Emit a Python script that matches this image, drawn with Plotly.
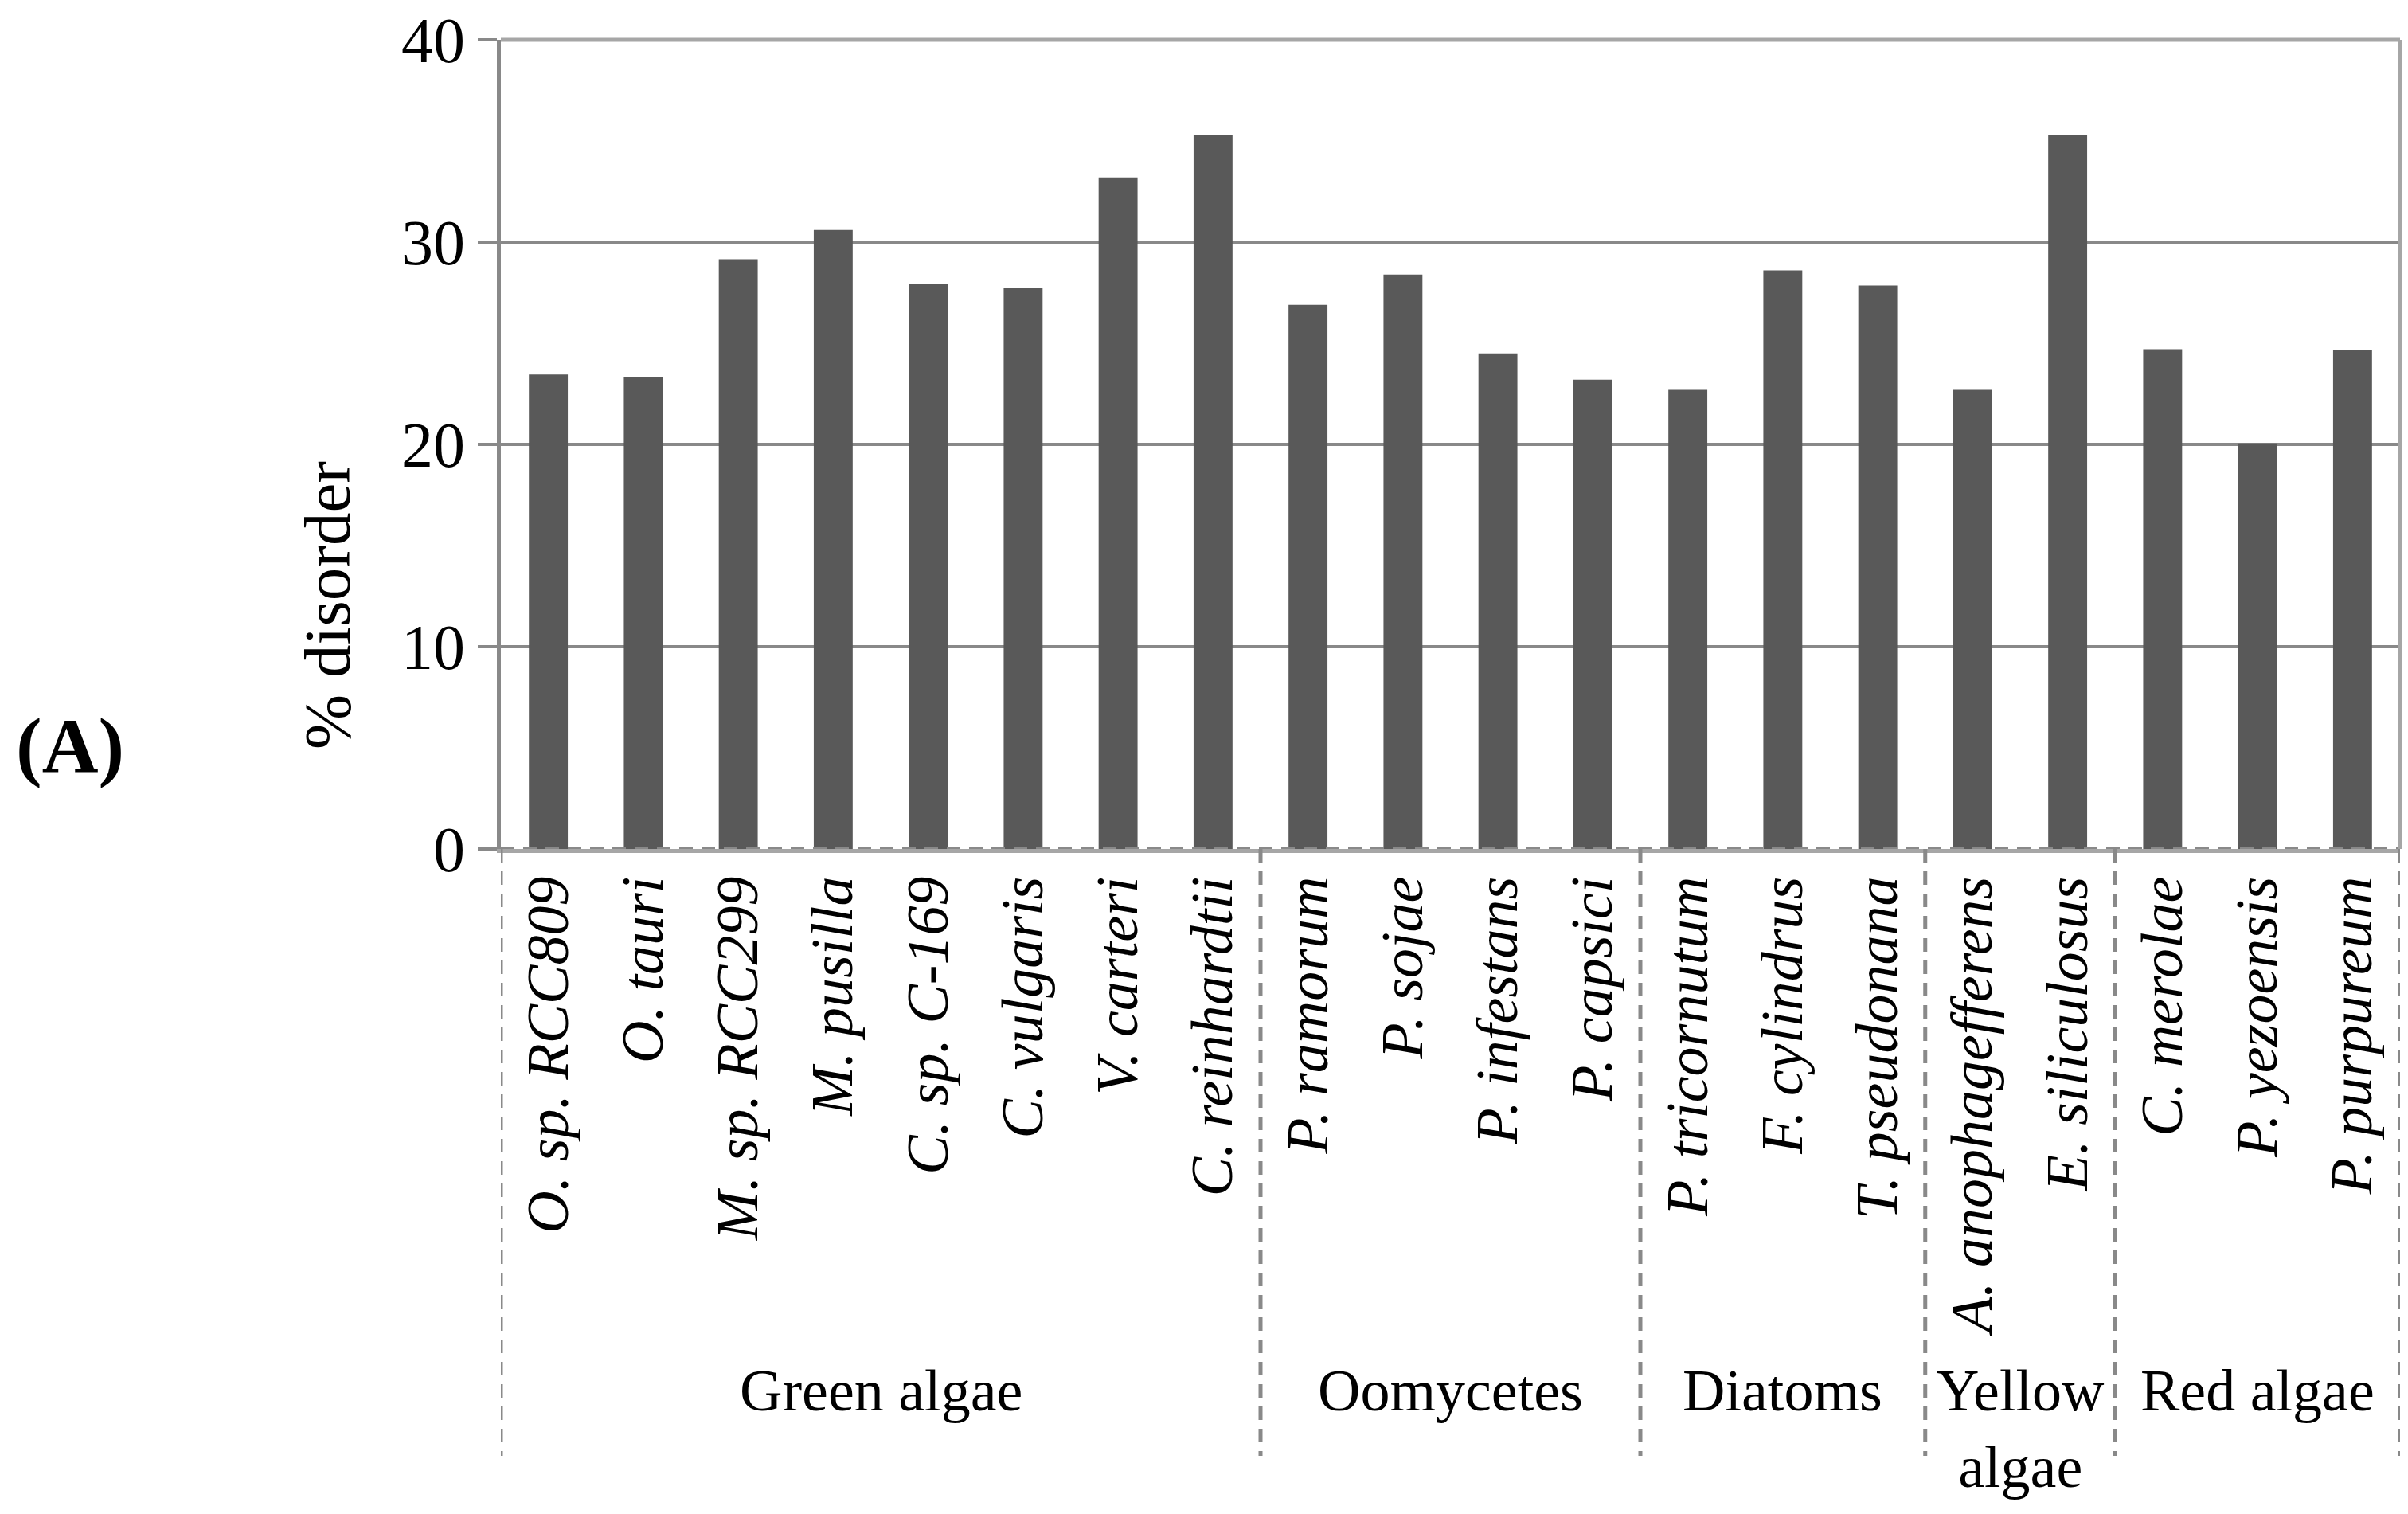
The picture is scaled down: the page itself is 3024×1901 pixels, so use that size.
import plotly.graph_objects as go

# ---- data ----
species = [
    "O. sp. RCC809", "O. tauri", "M. sp. RCC299", "M. pusilla", "C. sp. C-169",
    "C. vulgaris", "V. carteri", "C. reinhardtii",
    "P. ramorum", "P. sojae", "P. infestans", "P. capsici",
    "P. tricornutum", "F. cylindrus", "T. pseudonana",
    "A. anophagefferens", "E. siliculosus",
    "C. merolae", "P. yezoensis", "P. purpureum",
]
disorder = [
    23.45, 23.35, 29.15, 30.6, 27.95, 27.75, 33.2, 35.3,
    26.9, 28.4, 24.5, 23.2,
    22.7, 28.6, 27.85,
    22.7, 35.3,
    24.7, 20.05, 24.65,
]
groups = ["Green algae", "Oomycetes", "Diatoms", "Yellow<br>algae", "Red algae"]
group_sizes = [8, 4, 3, 2, 3]
y_ticks = [0, 10, 20, 30, 40]
y_title = "% disorder"
panel_label = "<b>(A)</b>"

# ---- layout constants ----
W, H = 3024, 1901
L, R, T, B = 621, 18, 42, 843
PH = H - T - B  # plot height in px
FONT = "Liberation Serif, Times New Roman, serif"
BAR = "#595959"
GRID = "#898989"
BORDER = "#A6A6A6"


def py(pix):
    """page pixel row -> paper y"""
    return (H - B - pix) / PH


fig = go.Figure(
    go.Bar(x=species, y=disorder, marker=dict(color=BAR, line_width=0), showlegend=False)
)

shapes = []
# group separators (dashed vertical lines below the axis)
bounds = [-0.5]
for s in group_sizes:
    bounds.append(bounds[-1] + s)
for b in bounds:
    shapes.append(dict(type="line", xref="x", yref="paper", x0=b, x1=b, y0=0, y1=py(1820),
                       line=dict(color=GRID, width=5, dash="17px,11px"), layer="above"))
# dashed overlay on x axis line
shapes.append(dict(type="line", xref="paper", yref="y", x0=0, x1=1, y0=0, y1=0,
                   line=dict(color=GRID, width=5, dash="17px,11px"), layer="above"))
# top and right border
shapes.append(dict(type="line", xref="paper", yref="paper", x0=0, x1=1, y0=1, y1=1,
                   line=dict(color=BORDER, width=5)))
shapes.append(dict(type="line", xref="paper", yref="paper", x0=1, x1=1, y0=0, y1=1,
                   line=dict(color=BORDER, width=5)))

annotations = []
start = 0
for g, s in zip(groups, group_sizes):
    center = start + (s - 1) / 2
    annotations.append(dict(text=g, x=center, xref="x", y=py(1695), yref="paper",
                            yanchor="top", xanchor="center", showarrow=False,
                            font=dict(family=FONT, size=74, color="black")))
    start += s

annotations.append(dict(text=y_title, x=-0.0914, y=py(752), xref="paper", yref="paper",
                        textangle=-90, showarrow=False, xanchor="center", yanchor="middle",
                        font=dict(family=FONT, size=83, color="black")))
annotations.append(dict(text=panel_label, x=-0.227, y=py(928), xref="paper", yref="paper",
                        showarrow=False, xanchor="center", yanchor="middle",
                        font=dict(family=FONT, size=98, color="black")))

fig.update_layout(
    width=W, height=H,
    margin=dict(l=L, r=R, t=T, b=B, autoexpand=False),
    paper_bgcolor="white", plot_bgcolor="white",
    bargap=0.59,
    shapes=shapes,
    annotations=annotations,
    xaxis=dict(
        type="category", tickangle=-90, ticks="", showgrid=False,
        showline=True, linecolor=BORDER, linewidth=5,
        tickfont=dict(family=FONT, size=74, color="black", style="italic"),
        ticklabelstandoff=0,
        range=[-0.5, len(species) - 0.5],
    ),
    yaxis=dict(
        range=[0, 40], tickvals=y_ticks, ticks="outside", ticklen=24, tickwidth=4,
        tickcolor=GRID, showgrid=True, gridcolor=GRID, gridwidth=4,
        showline=True, linecolor=GRID, linewidth=5, zeroline=False,
        ticklabeloverflow="allow",
        tickfont=dict(family=FONT, size=80, color="black"),
    ),
)

fig.write_html("out.html")
